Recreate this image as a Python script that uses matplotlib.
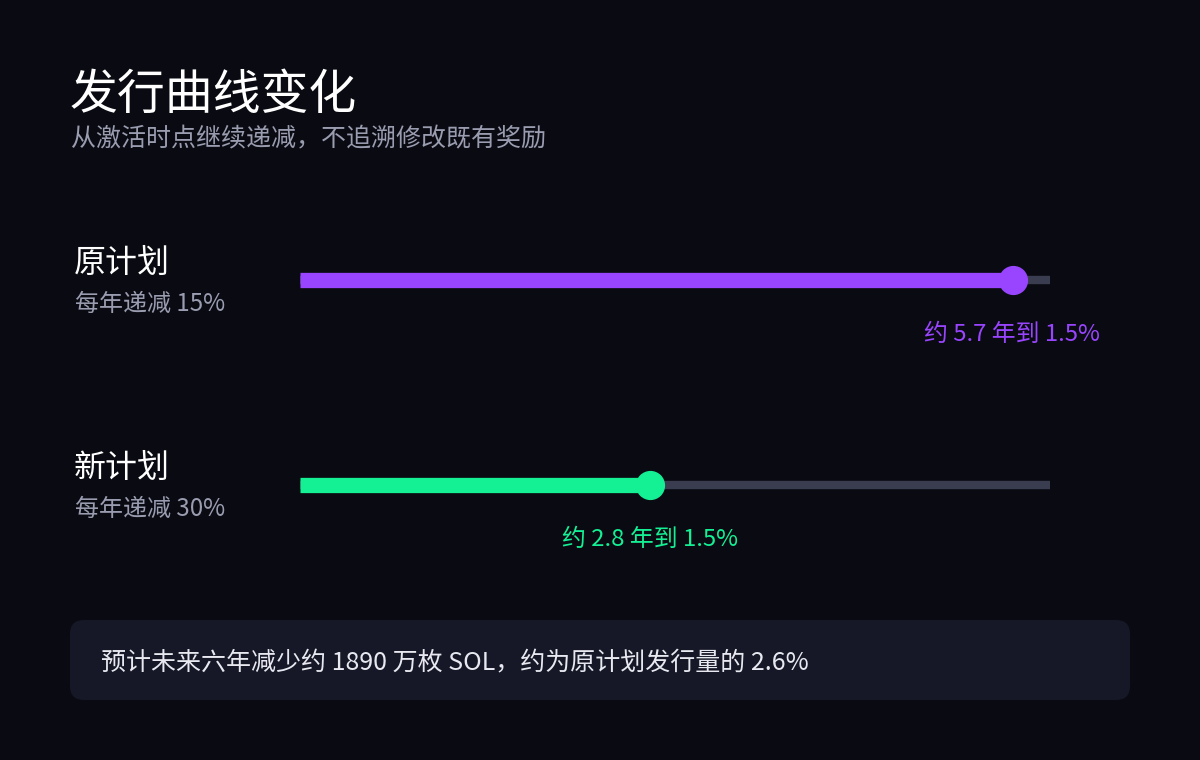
import matplotlib.pyplot as plt
from matplotlib.patches import FancyBboxPatch

plt.rcParams['font.family'] = ['Noto Sans CJK SC', 'DejaVu Sans']

plans = ["原计划", "新计划"]
subtitles = ["每年递减 15%", "每年递减 30%"]
years_to_floor = [5.7, 2.8]
notes = ["约 5.7 年到 1.5%", "约 2.8 年到 1.5%"]
colors = ["#9945ff", "#14f195"]
max_years = 6

bg = "#0a0b12"
W, H = 1200, 760
fig = plt.figure(figsize=(12, 7.6), dpi=100, facecolor=bg)

# background layer in pixel coords
base = fig.add_axes([0, 0, 1, 1])
base.set_xlim(0, W)
base.set_ylim(H, 0)
base.axis("off")
base.set_facecolor(bg)

base.text(70, 95, "发行曲线变化", color="white", fontsize=34.5, va="center")
base.text(71, 139, "从激活时点继续递减，不追溯修改既有奖励", color="#9a9cb0", fontsize=18, va="center")

# bar axes: x in years, y in pixels
ax = fig.add_axes([300 / W, 0, 750 / W, 1])
ax.set_xlim(0, max_years)
ax.set_ylim(H, 0)
ax.axis("off")
ax.patch.set_alpha(0)

rows_y = [280, 485]
for name, sub, yrs, note, c, y in zip(plans, subtitles, years_to_floor, notes, colors, rows_y):
    base.text(74, y - 17, name, color="white", fontsize=23, va="center")
    base.text(75, y + 24, sub, color="#9a9cb0", fontsize=17.3, va="center")
    ax.plot([0, max_years], [y, y], color="#3a3d50", lw=6, solid_capstyle="butt")
    ax.plot([0, yrs], [y, y], color=c, lw=11, solid_capstyle="butt")
    ax.plot([yrs], [y], "o", color=c, ms=20)

base.text(1100, 334, notes[0], color=colors[0], fontsize=17.2, va="center", ha="right")
ax.text(years_to_floor[1], 539, notes[1], color=colors[1], fontsize=17.2, va="center", ha="center")

box = FancyBboxPatch((70, 620), 1060, 80, boxstyle="round,pad=0,rounding_size=14",
                     facecolor="#161827", edgecolor="none")
base.add_patch(box)
base.text(101, 662, "预计未来六年减少约 1890 万枚 SOL，约为原计划发行量的 2.6%",
          color="#e8e9f0", fontsize=18, va="center")

fig.savefig("out.png", dpi=100, facecolor=bg)
